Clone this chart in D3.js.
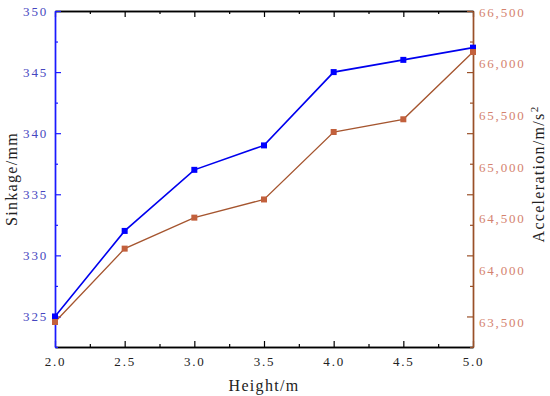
<!DOCTYPE html>
<html>
<head>
<meta charset="utf-8">
<script src="https://cdn.jsdelivr.net/npm/d3@7"></script>
<style>
  html, body { margin: 0; padding: 0; background: #ffffff; }
  svg { display: block; }
  text { font-family: "Liberation Serif", "DejaVu Serif", serif; }
</style>
</head>
<body>
<svg id="chart" width="550" height="396"></svg>
<script>
// ---- data ----
const heights = [2.0, 2.5, 3.0, 3.5, 4.0, 4.5, 5.0];
const sinkage = [325, 332, 337, 339, 345, 346, 347];
const acceleration = [63500, 64210, 64510, 64686, 65339, 65462, 66113];
const xTicks = [2.0, 2.5, 3.0, 3.5, 4.0, 4.5, 5.0];
const xMinorTicks = [2.25, 2.75, 3.25, 3.75, 4.25, 4.75];
const leftTicks = [325, 330, 335, 340, 345, 350];
const leftMinorTicks = [322.5, 327.5, 332.5, 337.5, 342.5, 347.5];
const rightTicks = [63500, 64000, 64500, 65000, 65500, 66000, 66500];
const xTitle = "Height/m";
const leftTitle = "Sinkage/mm";
const rightTitle = "Acceleration/m/s";

// ---- layout ----
const L = 55, R = 473, T = 11, B = 347;
const svg = d3.select("#chart");

const x = d3.scaleLinear().domain([2, 5]).range([L, R]);
const yL = d3.scaleLinear().domain([322.5, 350]).range([B, T]);
const yR = d3.scaleLinear().domain([63258, 66510]).range([B, T]);

const blue = "#0000ee", blueAxis = "#1a1aff", blueText = "#4646c0";
const brown = "#a5552f", brownAxis = "#9a5028", brownText = "#d4826e", orangeMark = "#c2603c";
const tickFont = 13, ls = "1.8px";

function styleAxis(g, color, textColor) {
  g.selectAll(".domain").attr("stroke", color).attr("stroke-width", 1.4);
  g.selectAll(".tick line").attr("stroke", color).attr("stroke-width", 1.2);
  g.selectAll(".tick text").attr("fill", textColor)
    .style("font-size", tickFont + "px").style("letter-spacing", ls)
    .style("font-family", '"Liberation Serif", serif');
}

// bottom axis
const gB = svg.append("g").attr("transform", `translate(0,${B})`)
  .call(d3.axisBottom(x).tickValues(xTicks).tickSize(-6).tickSizeOuter(0).tickPadding(10).tickFormat(d3.format(".1f")));
styleAxis(gB, "#000", "#222");
const gBm = svg.append("g").attr("transform", `translate(0,${B})`)
  .call(d3.axisBottom(x).tickValues(xMinorTicks).tickSize(-3).tickSizeOuter(0).tickFormat(""));
styleAxis(gBm, "#000", "#222");

// top axis
const gT = svg.append("g").attr("transform", `translate(0,${T})`)
  .call(d3.axisTop(x).tickValues(xTicks).tickSize(-6).tickSizeOuter(0).tickFormat(""));
styleAxis(gT, "#000", "#222");
const gTm = svg.append("g").attr("transform", `translate(0,${T})`)
  .call(d3.axisTop(x).tickValues(xMinorTicks).tickSize(-3).tickSizeOuter(0).tickFormat(""));
styleAxis(gTm, "#000", "#222");

// left axis
const gL = svg.append("g").attr("transform", `translate(${L},0)`)
  .call(d3.axisLeft(yL).tickValues(leftTicks).tickSize(-6).tickSizeOuter(0).tickPadding(7).tickFormat(d3.format("d")));
styleAxis(gL, blueAxis, blueText);
const gLm = svg.append("g").attr("transform", `translate(${L},0)`)
  .call(d3.axisLeft(yL).tickValues(leftMinorTicks).tickSize(-3).tickSizeOuter(0).tickFormat(""));
styleAxis(gLm, blueAxis, blueText);

// right axis: tick marks (mirroring left) + labels from its own scale
const gRt = svg.append("g").attr("transform", `translate(${R},0)`)
  .call(d3.axisRight(yL).tickValues(leftTicks).tickSize(-6).tickSizeOuter(0).tickFormat(""));
styleAxis(gRt, brownAxis, brownText);
const gRtm = svg.append("g").attr("transform", `translate(${R},0)`)
  .call(d3.axisRight(yL).tickValues(leftMinorTicks).tickSize(-3).tickSizeOuter(0).tickFormat(""));
styleAxis(gRtm, brownAxis, brownText);
const gR = svg.append("g").attr("transform", `translate(${R},0)`)
  .call(d3.axisRight(yR).tickValues(rightTicks).tickSize(0).tickSizeOuter(0).tickPadding(6).tickFormat(d3.format(",")));
styleAxis(gR, brownAxis, brownText);
gR.select(".domain").remove();

// series: acceleration (right axis)
const lineR = d3.line().x((d, i) => x(heights[i])).y(d => yR(d));
svg.append("path").datum(acceleration).attr("d", lineR)
  .attr("fill", "none").attr("stroke", brown).attr("stroke-width", 1.3);
// series: sinkage (left axis)
const lineL = d3.line().x((d, i) => x(heights[i])).y(d => yL(d));
svg.append("path").datum(sinkage).attr("d", lineL)
  .attr("fill", "none").attr("stroke", blue).attr("stroke-width", 1.6);

const ms = 6;
svg.append("g").selectAll("rect").data(sinkage).join("rect")
  .attr("x", (d, i) => x(heights[i]) - ms / 2).attr("y", d => yL(d) - ms / 2)
  .attr("width", ms).attr("height", ms).attr("fill", "#0000ff");
svg.append("g").selectAll("rect").data(acceleration).join("rect")
  .attr("x", (d, i) => x(heights[i]) - ms / 2).attr("y", d => yR(d) - ms / 2)
  .attr("width", ms).attr("height", ms).attr("fill", orangeMark);

// titles
svg.append("text").attr("x", (L + R) / 2).attr("y", 391)
  .attr("text-anchor", "middle").attr("fill", "#222")
  .style("font-size", "16px").style("letter-spacing", "1.3px").text(xTitle);
svg.append("text").attr("transform", `translate(17,179) rotate(-90)`)
  .attr("text-anchor", "middle").attr("fill", "#222")
  .style("font-size", "16px").style("letter-spacing", "1.3px").text(leftTitle);
const rt = svg.append("text").attr("transform", `translate(544,174) rotate(-90)`)
  .attr("text-anchor", "middle").attr("fill", "#222")
  .style("font-size", "16px").style("letter-spacing", "1.3px");
rt.append("tspan").text(rightTitle);
rt.append("tspan").attr("dy", -6).style("font-size", "11px").text("2");
</script>
</body>
</html>
